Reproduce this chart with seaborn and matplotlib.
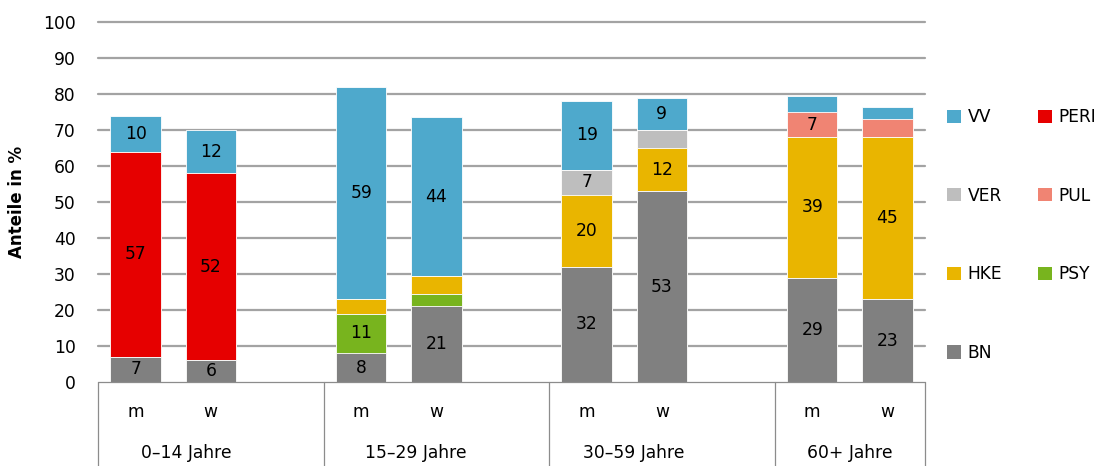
import matplotlib
matplotlib.use("Agg")
import matplotlib.pyplot as plt
import seaborn as sns
import pandas as pd
import numpy as np
from matplotlib.patches import Patch

# ---- data ----
groups = ["0–14 Jahre", "15–29 Jahre", "30–59 Jahre", "60+ Jahre"]
sexes = ["m", "w"]
BN   = [7, 6, 8, 21, 32, 53, 29, 23]
PSY  = [0, 0, 11, 3.5, 0, 0, 0, 0]
PERI = [57, 52, 0, 0, 0, 0, 0, 0]
HKE  = [0, 0, 4, 5, 20, 12, 39, 45]
VER  = [0, 0, 0, 0, 7, 5, 0, 0]
PUL  = [0, 0, 0, 0, 0, 0, 7, 5]
VV   = [10, 12, 59, 44, 19, 9, 4.5, 3.5]

series = [("BN", BN, "#808080"), ("PSY", PSY, "#78b41e"), ("PERI", PERI, "#e60000"),
          ("HKE", HKE, "#e9b500"), ("VER", VER, "#bebebe"), ("PUL", PUL, "#f08473"),
          ("VV", VV, "#4ea9cc")]
colors = {n: c for n, _, c in series}

# layout positions: 2 bars per group, one empty slot between groups
xpos = [0, 1, 3, 4, 6, 7, 9, 10]
group_label_x = [0.67, 3.72, 6.63, 9.5]

FS = 12.3

sns.set_theme(style="white")
plt.rcParams['font.family'] = ['DejaVu Sans']
plt.rcParams['text.color'] = 'black'
plt.rcParams['ytick.color'] = 'black'
plt.rcParams['axes.labelcolor'] = 'black'

fig = plt.figure(figsize=(10.95, 4.66), dpi=100)
ax = fig.add_axes([98/1095, 84/466, 827/1095, 360/466])

df = pd.DataFrame({n: v for n, v, _ in series})
df["x"] = xpos
names = [n for n, _, _ in series]
cum = df[names].cumsum(axis=1)

# draw cumulative totals from top down so lower segments overlay
for n in reversed(names):
    d = pd.DataFrame({"x": xpos, "y": cum[n]})
    sns.barplot(data=d, x="x", y="y", native_scale=True, width=0.67,
                color=colors[n], saturation=1, edgecolor="white", linewidth=0.6,
                ax=ax, zorder=3, errorbar=None)

# value labels
for n in names:
    for i, x in enumerate(xpos):
        v = df[n][i]
        if v >= 6:
            ctr = cum[n][i] - v / 2
            ax.text(x, ctr, f"{v:.0f}", ha="center", va="center", fontsize=FS,
                    color="black", zorder=5)

ax.set_xlim(-0.5, 10.5)
ax.set_ylim(0, 100)
ax.set_yticks(range(0, 101, 10))
ax.set_yticklabels([str(t) for t in range(0, 101, 10)], fontsize=FS, color="black")
ax.tick_params(axis="y", length=0, pad=16)
for t in range(10, 101, 10):
    ax.axhline(t, color="#a3a3a3", lw=1.6, zorder=0.5, clip_on=False)
for s in ax.spines.values():
    s.set_visible(False)
ax.set_xticks([])
ax.set_xlabel("")
ax.set_ylabel("Anteile in %", fontsize=FS - 0.3, fontweight="bold", labelpad=12, color="black")

# category box below the plot
trans = ax.get_xaxis_transform()
ax.plot([-0.5, 10.5], [0, 0], transform=trans, color="#8c8c8c", lw=0.9, clip_on=False, zorder=4)
for b in [-0.5, 2.5, 5.5, 8.5, 10.5]:
    ax.plot([b, b], [0, -0.24], transform=trans, color="#8c8c8c", lw=0.9, clip_on=False)
for i, x in enumerate(xpos):
    ax.text(x, -0.083, sexes[i % 2], transform=trans, ha="center", va="center", fontsize=FS)
for g, gx in zip(groups, group_label_x):
    ax.text(gx, -0.197, g, transform=trans, ha="center", va="center", fontsize=FS)

# legend
order = ["VV", "VER", "HKE", "BN", "PERI", "PUL", "PSY"]
handles = [Patch(facecolor=colors[n], edgecolor="none", label=n) for n in order]
fig.legend(handles=handles, ncol=2, loc="upper left", bbox_to_anchor=(947/1095, 1 - 108/466),
           frameon=False, fontsize=FS, labelspacing=3.55, handlelength=0.8,
           handleheight=0.8, handletextpad=0.4, columnspacing=2.1, borderaxespad=0,
           borderpad=0)

fig.savefig("out.png", dpi=100)
